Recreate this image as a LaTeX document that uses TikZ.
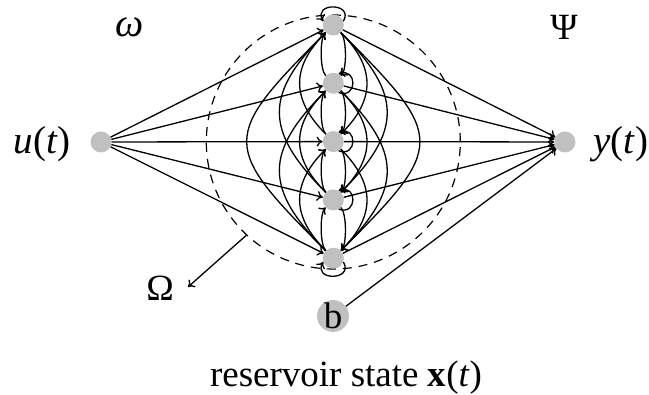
\documentclass[tikz,border=0pt]{standalone}
\usepackage{fontspec}
\setmainfont{Liberation Serif}
\usetikzlibrary{arrows.meta}
\definecolor{nodegray}{HTML}{C0C0C0}
\begin{document}
\begin{tikzpicture}[x=1pt,y=1pt,
  font=\fontsize{37}{40}\selectfont,
  dot/.style={circle,fill=nodegray,minimum size=21pt,inner sep=0pt},
  arr/.style={-{To[length=6pt,width=10pt]}, line width=1.3pt},
  lab/.style={inner sep=0pt}]
\useasboundingbox (0,0) rectangle (649,-395);

% reservoir boundary
\node[circle,draw,dash pattern=on 9pt off 7pt,line width=1.2pt,minimum size=254pt,inner sep=0pt] (res) at (333.3,-142) {};

% nodes
\node[dot] (u) at (101,-142) {};
\node[dot] (y) at (565,-142) {};
\foreach \i in {1,...,5} \node[dot] (r\i) at (333.3,{-25-58.3*(\i-1)}) {};
\node[dot,minimum size=30pt] (b) at (333,-316) {b};

% labels
\node[lab] (omega) at (130,-27) {\fontsize{40}{40}\selectfont\textit{ω}};
\node[lab] (psi) at (564,-27) {Ψ};
\node[lab,anchor=east] (ulab) at (71,-144) {\fontsize{39}{40}\selectfont\textit{u}(\textit{t})};
\node[lab,anchor=west] (ylab) at (593,-144) {\fontsize{39}{40}\selectfont\textit{y}(\textit{t})};
\node[lab] (om) at (160,-288) {Ω};
\node[lab] (state) at (346,-378) {reservoir state \textbf{x}(\textit{t})};

% input and output connections
\foreach \i in {1,...,5} {
  \draw[arr] (u) -- (r\i);
  \draw[arr] (r\i) -- (y);
}
\draw[arr] (b) -- (y);

% internal connections
\foreach \i/\j/\l in {1/2/0.5, 2/3/0.5, 3/4/0.5, 4/5/0.5, 1/3/1.24, 2/4/1.24, 3/5/1.24, 1/4/1.4, 2/5/1.4, 1/5/1.75} {
  \draw[arr] (r\i) to[out=-45,in=45,looseness=\l] (r\j);
  \draw[arr] (r\j) to[out=135,in=-135,looseness=\l] (r\i);
}

% self loops
\draw[arr] (r1.20) to[out=60,in=120,min distance=22pt] (r1.160);
\foreach \i in {2,3,4} \draw[arr] (r\i.-60) to[out=-20,in=20,min distance=20pt] (r\i.60);
\draw[arr] (r5.-20) to[out=-60,in=-120,min distance=22pt] (r5.-160);

% Omega pointer
\coordinate (omend) at (188,-287);
\draw[arr] (res.227) -- (omend);
\end{tikzpicture}
\end{document}
